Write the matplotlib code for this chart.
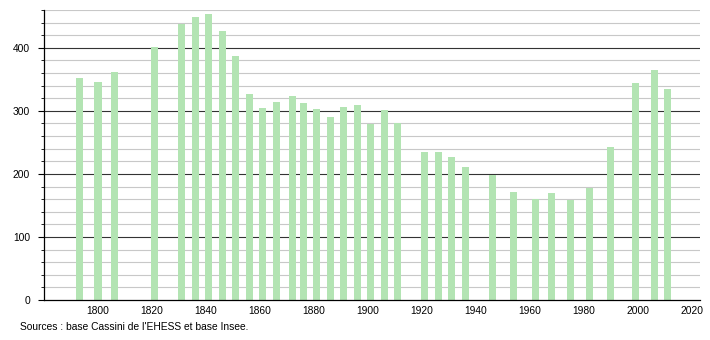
import numpy as np
import matplotlib.pyplot as plt
from matplotlib.ticker import MultipleLocator

plt.rcParams['font.family'] = ['Liberation Sans', 'DejaVu Sans']

# Census years and population
years = [1793, 1800, 1806, 1821, 1831, 1836, 1841, 1846, 1851, 1856,
         1861, 1866, 1872, 1876, 1881, 1886, 1891, 1896, 1901, 1906,
         1911, 1921, 1926, 1931, 1936, 1946, 1954, 1962, 1968, 1975,
         1982, 1990, 1999, 2006, 2011]
population = [352, 346, 362, 401, 438, 449, 454, 426, 387, 326,
              305, 314, 324, 312, 303, 290, 306, 309, 279, 302,
              280, 234, 234, 227, 211, 199, 172, 161, 170, 158,
              178, 242, 344, 365, 334]
x_ticks = [1800, 1820, 1840, 1860, 1880, 1900, 1920, 1940, 1960, 1980, 2000, 2020]
source = "Sources : base Cassini de l'EHESS et base Insee."

fig = plt.figure(figsize=(7.1, 3.4), dpi=100)
ax = fig.add_axes([44 / 710, 40 / 340, 656 / 710, 290 / 340])

# grid: light every 20, dark every 100
for v in range(20, 461, 20):
    if v % 100 == 0:
        ax.axhline(v, color='#333333', linewidth=0.8, zorder=1)
    else:
        ax.axhline(v, color='#c8c8c8', linewidth=0.8, zorder=1)

ax.bar(years, population, width=2.6, color='#b3e4b3', zorder=2)

ax.set_xlim(1780, 2023)
ax.set_ylim(0, 460)
ax.set_xticks(x_ticks)
ax.yaxis.set_major_locator(MultipleLocator(100))
ax.yaxis.set_minor_locator(MultipleLocator(20))

for side in ['top', 'right']:
    ax.spines[side].set_visible(False)
ax.spines['left'].set_linewidth(0.9)
ax.spines['bottom'].set_linewidth(0.9)
ax.tick_params(axis='x', length=0, labelsize=7.4, pad=4)
ax.tick_params(axis='y', which='major', length=4, labelsize=7.4, pad=6)
ax.tick_params(axis='y', which='minor', length=2)

fig.text(20 / 710, 1 - 327 / 340, source, fontsize=7.4, va='center', ha='left')

fig.savefig('out.png', dpi=100)
